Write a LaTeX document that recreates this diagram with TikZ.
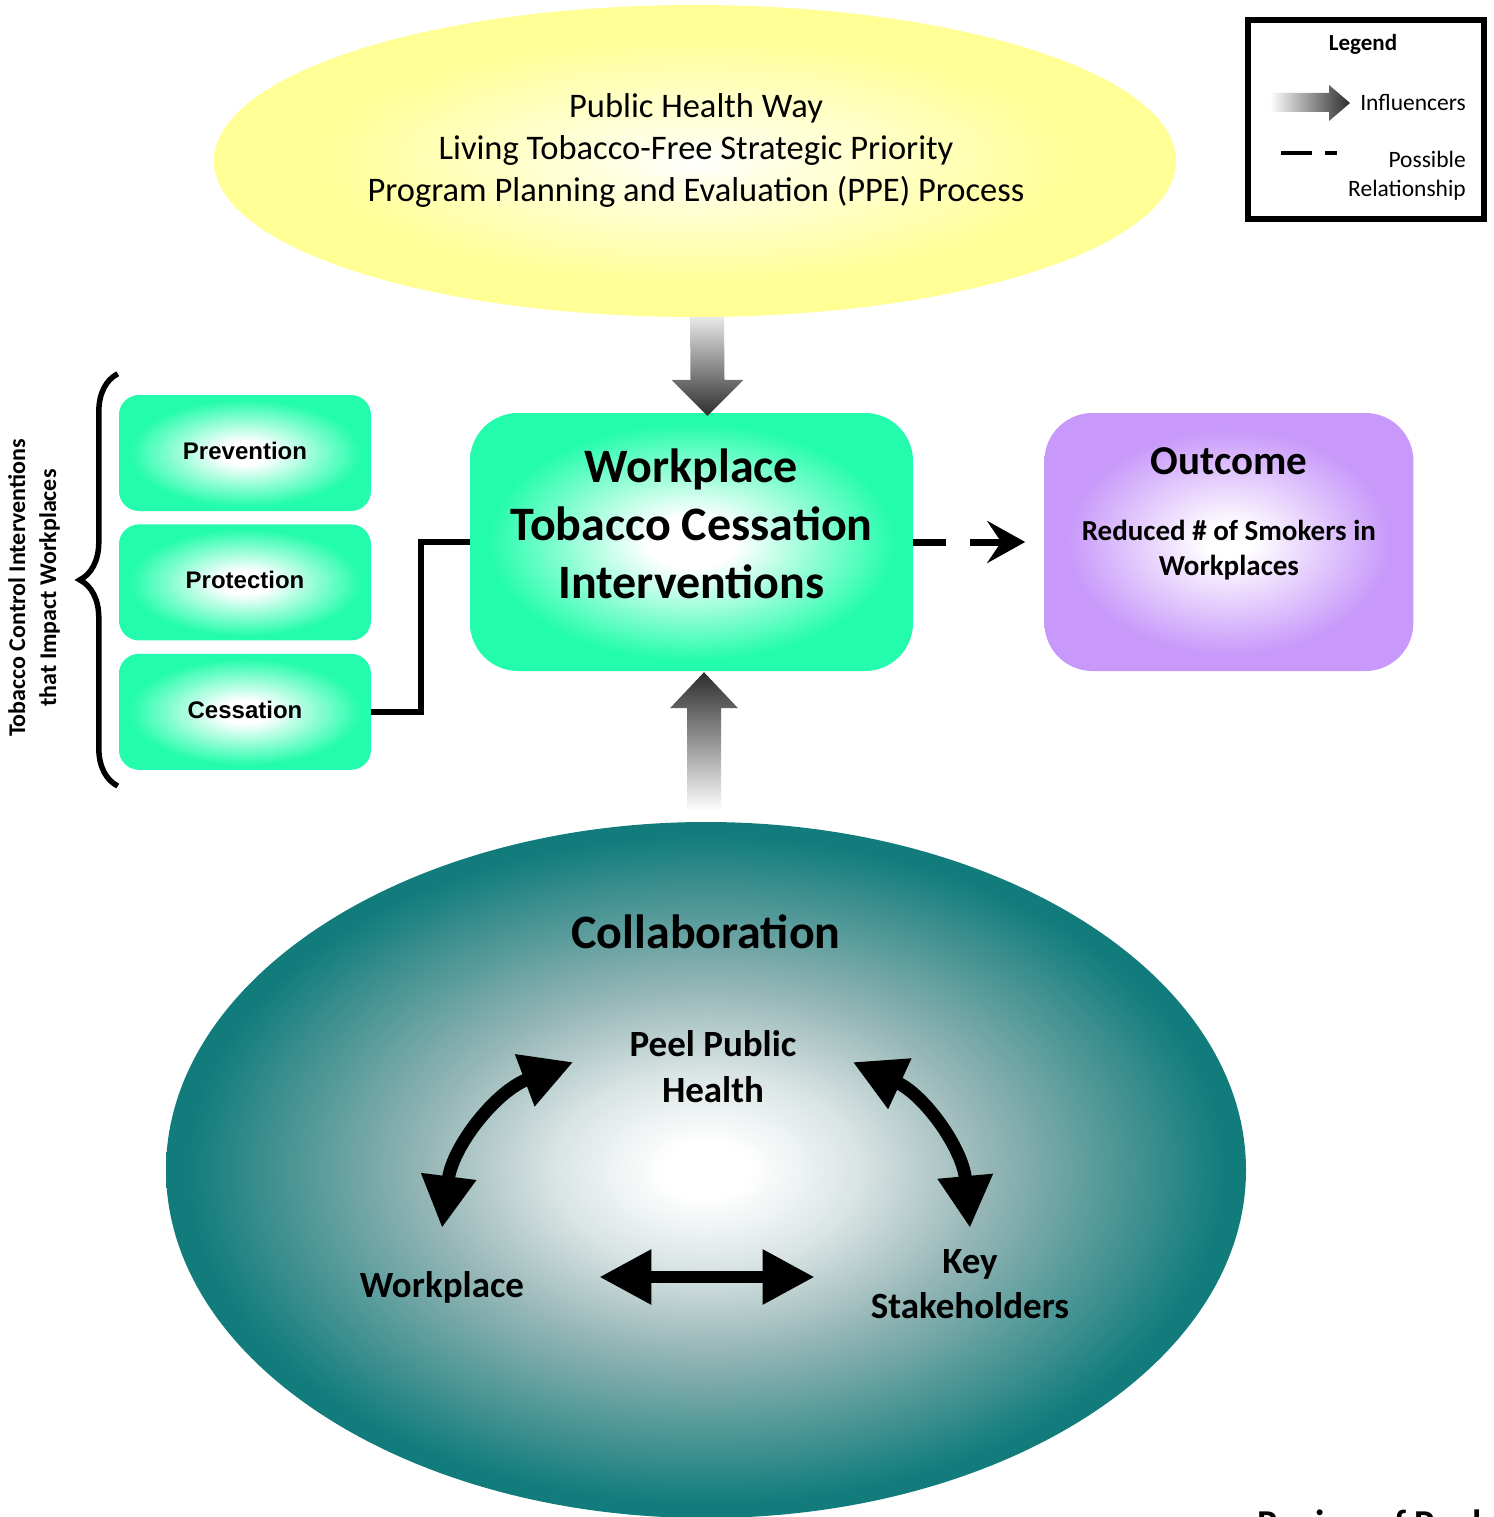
\documentclass[tikz,border=0pt]{standalone}
\usepackage{fontspec}
\setmainfont{Carlito}
\newfontfamily\arialfont{Liberation Sans}
\usetikzlibrary{positioning, calc, arrows.meta, shapes.geometric, decorations.pathreplacing}

\newcommand{\fsz}[2]{\fontsize{#1}{#2}\selectfont}

\definecolor{ppeyellow}{RGB}{255,255,150}
\definecolor{boxgreen}{RGB}{35,252,172}
\definecolor{outpurple}{RGB}{200,152,250}
\definecolor{collabteal}{RGB}{18,124,124}
\definecolor{collabmid}{RGB}{150,182,182}
\definecolor{collablight}{RGB}{218,228,228}
\definecolor{arrowdark}{RGB}{45,45,45}
\definecolor{arrowlight}{RGB}{232,232,232}

\pgfdeclareradialshading{ppeglow}{\pgfpoint{0bp}{0bp}}{color(0bp)=(white); color(4bp)=(white!75!ppeyellow); color(20bp)=(ppeyellow); color(50bp)=(ppeyellow)}
\pgfdeclareradialshading{greenglow}{\pgfpoint{0bp}{0bp}}{color(0bp)=(white); color(5bp)=(white); color(23bp)=(boxgreen); color(50bp)=(boxgreen)}
\pgfdeclareradialshading{purpleglow}{\pgfpoint{0bp}{0bp}}{color(0bp)=(white); color(3bp)=(white); color(22bp)=(outpurple); color(50bp)=(outpurple)}
\pgfdeclareradialshading{collabglow}{\pgfpoint{0bp}{0bp}}{color(0bp)=(white); color(2bp)=(white); color(7bp)=(collablight); color(13bp)=(collabmid); color(24bp)=(collabteal); color(50bp)=(collabteal)}

\tikzset{
	txt/.style={inner sep=0pt, align=center},
	subbox/.style={rounded corners=20pt, minimum width=252pt, minimum height=116pt, shade, shading=greenglow, font=\arialfont\bfseries\fsz{24}{29}},
	bigbox/.style={rounded corners=48pt, minimum height=258pt, shade},
	fat/.style={line width=13pt, {Triangle[length=52pt, width=52pt]}-{Triangle[length=52pt, width=52pt]}},
}

\begin{document}
\begin{tikzpicture}[x=1pt, y=1pt]
	\useasboundingbox (0,0) rectangle (1493,-1517);
	
	% planning process
	\node[ellipse, shade, shading=ppeglow, minimum width=962pt, minimum height=312pt] (ppe) at (695,-161) {};
	\node[txt, font=\fsz{34.5}{42}] (ppetext) at (696,-150) {Public Health Way\\Living Tobacco-Free Strategic Priority\\Program Planning and Evaluation (PPE) Process};
	
	% interventions
	\node[bigbox, shading=greenglow, minimum width=443pt] (work) at (691.5,-542) {};
	\node[txt, font=\bfseries\fsz{48}{58}] (worktext) at ($(work.center)+(0,18)$) {Workplace\\Tobacco Cessation\\Interventions};
	
	\node[bigbox, shading=purpleglow, minimum width=369pt, right=131pt of work] (outcome) {};
	\node[txt, font=\bfseries\fsz{41}{49}] (outtitle) at ($(outcome.north)+(0,-48)$) {Outcome};
	\node[txt, font=\bfseries\fsz{29}{35}] (outtext) at ($(outcome.north)+(0,-137)$) {Reduced \# of Smokers in\\Workplaces};
	
	\node[subbox, text depth=5pt] (prev) at (245,-453) {Prevention};
	\node[subbox, text depth=5pt, below=13pt of prev] (prot) {Protection};
	\node[subbox, text depth=5pt, below=13pt of prot] (cess) {Cessation};
	\node[txt, rotate=90, font=\bfseries\fsz{24}{31}] (tcitext) at (34,-588) {Tobacco Control Interventions\\that Impact Workplaces};
	
	\draw[line width=5.5pt, decorate, decoration={brace, amplitude=38pt}] ($(cess.south west)+(-1,-16)$) -- ($(prev.north west)+(-1,21)$);
	\draw[line width=6.5pt] (cess.east) -- ++(50,0) |- (work.west);
	\draw[line width=7pt, dash pattern=on 33pt off 24pt, -{Stealth[length=38pt, width=42pt, inset=14pt]}] (work.east) -- ($(outcome.west)+(-19,0)$);
	
	% influencer arrows
	\coordinate (dntop) at ($(ppe.south)+(12,0)$);
	\coordinate (dntip) at ($(work.north)+(16,-3)$);
	\shade[top color=arrowlight, bottom color=arrowdark] ($(dntop)+(-17,0)$) -- ($(dntop)+(17,0)$) -- ($(dntip)+(17,36)$) -- ($(dntip)+(36,36)$) -- (dntip) -- ($(dntip)+(-36,36)$) -- ($(dntip)+(-17,36)$) -- cycle;
	
	% collaboration
	\node[ellipse, shade, shading=collabglow, minimum width=1080pt, minimum height=696pt] (collab) at (706,-1170) {};
	\node[txt, font=\bfseries\fsz{48}{58}] (collabtitle) at (706,-932) {Collaboration};
	\node[txt, font=\bfseries\fsz{37}{46}] (pph) at (713,-1067) {Peel Public\\Health};
	\node[txt, font=\bfseries\fsz{37}{46}] (wp) at (442,-1287) {Workplace};
	\node[txt, font=\bfseries\fsz{37}{45}] (ks) at (970,-1284) {Key\\Stakeholders};
	
	\coordinate (uptip) at ($(work.south)+(12.5,-1)$);
	\coordinate (upfoot) at ($(collab.north)+(-2,10)$);
	\shade[top color=arrowdark, bottom color=white] (uptip) -- ($(uptip)+(34,-36)$) -- ($(uptip)+(17,-36)$) -- ($(upfoot)+(17,0)$) -- ($(upfoot)+(-17,0)$) -- ($(uptip)+(-17,-36)$) -- ($(uptip)+(-34,-36)$) -- cycle;
	
	\draw[fat] ($(wp.center)+(0,59)$) to[bend left=31] ($(pph.west)+(-56,5)$);
	\draw[fat] ($(pph.east)+(56,5)$) to[bend left=30] ($(ks.center)+(0,56)$);
	\draw[fat, line width=12pt] ($(wp.east)+(75,10)$) -- ($(ks.west)+(-56,7)$);
	
	% legend
	\node[draw, line width=6pt, minimum width=236pt, minimum height=199pt] (legend) at (1366,-119.5) {};
	\node[txt, font=\bfseries\fsz{23}{28}] (legtitle) at (1363,-44) {Legend};
	\node[txt, anchor=east, font=\fsz{23.5}{29}] (inftext) at (1466,-102) {Influencers};
	\node[txt, anchor=east, align=right, font=\fsz{23.5}{29}] (reltext) at (1466,-176) {Possible\\Relationship};
	\shade[left color=white, right color=arrowdark] ($(inftext.west)+(-90,9)$) -- ($(inftext.west)+(-31,9)$) -- ($(inftext.west)+(-31,17)$) -- ($(inftext.west)+(-10,-1)$) -- ($(inftext.west)+(-31,-19)$) -- ($(inftext.west)+(-31,-10)$) -- ($(inftext.west)+(-90,-10)$) -- cycle;
	\draw[line width=4.5pt, dash pattern=on 31pt off 13pt] (1281,-153) -- (1337,-153);
	
	\node[txt, anchor=north west, font=\bfseries\fsz{38}{46}] (rop) at (1257,-1510) {Region of Peel};
\end{tikzpicture}
\end{document}
